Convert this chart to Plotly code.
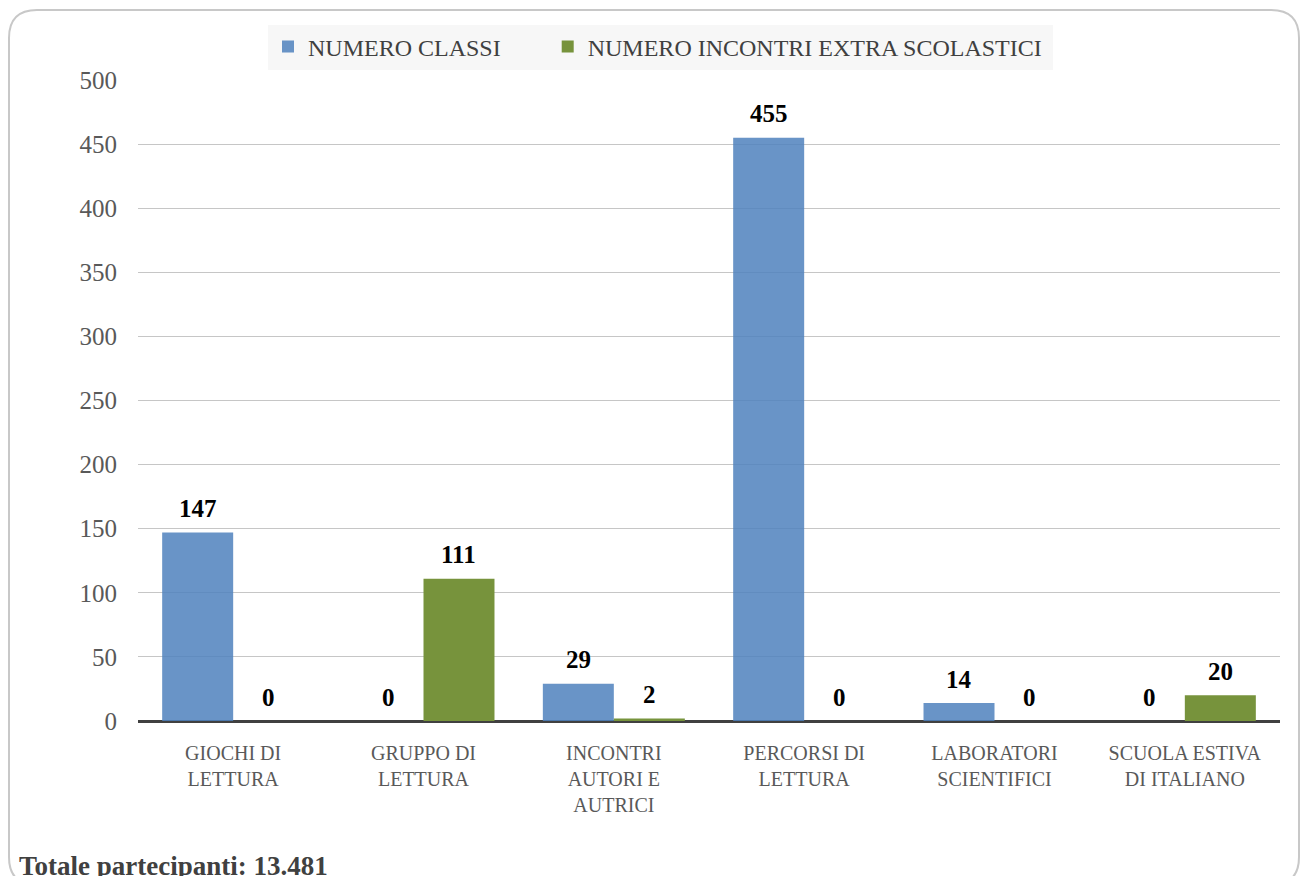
import plotly.graph_objects as go

categories = ["GIOCHI DI<br>LETTURA", "GRUPPO DI<br>LETTURA", "INCONTRI<br>AUTORI E<br>AUTRICI",
              "PERCORSI DI<br>LETTURA", "LABORATORI<br>SCIENTIFICI", "SCUOLA ESTIVA<br>DI ITALIANO"]
numero_classi = [147, 0, 29, 455, 14, 0]
numero_incontri = [0, 111, 2, 0, 0, 20]
series_names = ["NUMERO CLASSI", "NUMERO INCONTRI EXTRA SCOLASTICI"]
footnote = "Totale partecipanti: 13.481"

FONT = "Liberation Serif"
W, H = 1301, 876
L, R, T, B = 138, 21, 80, 155
pw, ph = W - L - R, H - T - B

def px(x):
    return (x - L) / pw

def py(y):
    return (H - B - y) / ph

fig = go.Figure()
fig.add_trace(go.Bar(
    x=categories, y=numero_classi, name=series_names[0] + "\u00a0" * 7,
    marker=dict(color="rgba(79,129,189,0.85)", line=dict(width=0)),
))
fig.add_trace(go.Bar(
    x=categories, y=numero_incontri, name=series_names[1] + "\u00a0" * 1,
    marker=dict(color="#77933c", line=dict(width=0)),
))

bargap = 0.254
bar_px = pw / len(categories) * (1 - bargap) / 2
annotations = []
for vals, sign in ((numero_classi, -1), (numero_incontri, 1)):
    for cat, v in zip(categories, vals):
        annotations.append(dict(
            x=cat, y=v, xref="x", yref="y", text=f"<b>{v}</b>", showarrow=False,
            xshift=sign * bar_px / 2, yshift=24, xanchor="center", yanchor="middle",
            font=dict(family=FONT, size=25, color="#000000")))

annotations.append(dict(text=f"<b>{footnote}</b>", xref="paper", yref="paper",
                        x=px(17), y=py(866), xanchor="left", yanchor="middle", showarrow=False,
                        font=dict(family=FONT, size=27, color="#404040")))

r = 28
x0, x1 = px(9), px(1299)
y0, y1 = py(10), py(885)
path = (f"M {x0 + r/pw},{y0} L {x1 - r/pw},{y0} Q {x1},{y0} {x1},{y0 - r/ph} "
        f"L {x1},{y1 + r/ph} Q {x1},{y1} {x1 - r/pw},{y1} "
        f"L {x0 + r/pw},{y1} Q {x0},{y1} {x0},{y1 + r/ph} "
        f"L {x0},{y0 - r/ph} Q {x0},{y0} {x0 + r/pw},{y0} Z")

fig.update_layout(
    width=W, height=H,
    margin=dict(l=L, r=R, t=T, b=B),
    paper_bgcolor="white", plot_bgcolor="white",
    barmode="group", bargap=bargap, bargroupgap=0,
    font=dict(family=FONT, color="#595959", size=20),
    legend=dict(orientation="h", x=px(268), xanchor="left", y=py(47), yanchor="middle",
                bgcolor="#f7f7f7", font=dict(family=FONT, size=24, color="#404040"),
                itemwidth=30, tracegroupgap=0),
    xaxis=dict(showgrid=False, showline=False, ticks="", tickfont=dict(size=20, color="#595959"),
               ticklabelstandoff=18),
    yaxis=dict(range=[0, 500], dtick=50, showgrid=True, gridcolor="#c6c6c6", gridwidth=1,
               zeroline=True, zerolinecolor="#404040", zerolinewidth=3,
               tickfont=dict(size=25, color="#595959"), ticklabelstandoff=20, showline=False),
    shapes=[dict(type="path", path=path, xref="paper", yref="paper",
                 line=dict(color="#c8c8c8", width=2), fillcolor="rgba(0,0,0,0)", layer="below")],
    annotations=annotations,
)

fig.write_html("out.html", config={"displayModeBar": False},
               post_script="document.body.style.margin='0px';")
